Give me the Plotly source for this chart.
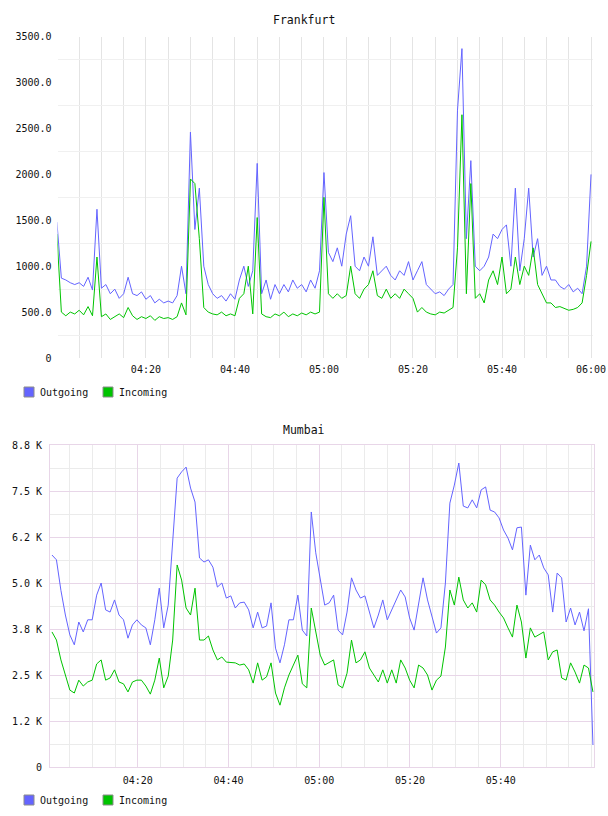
import plotly.graph_objects as go
import pandas as pd

# ---------------- data ----------------
fra_out = [1480, 870, 850, 820, 800, 820, 780, 880, 740, 1620,
           760, 800, 700, 750, 650, 700, 880, 700, 680, 720,
           640, 680, 600, 640, 600, 620, 600, 680, 1000, 700,
           2460, 1400, 1850, 1000, 800, 700, 650, 680, 620, 700,
           640, 850, 1000, 780, 950, 2120, 700, 850, 640, 800,
           700, 800, 720, 850, 760, 800, 720, 850, 760, 950,
           2020, 1150, 1050, 1200, 1000, 1350, 1550, 1000, 950, 1100,
           1000, 1320, 900, 950, 1000, 900, 850, 950, 900, 1050,
           850, 950, 1050, 800, 750, 700, 720, 680, 750, 800,
           2700, 3370, 1300, 2150, 1000, 950, 1000, 1100, 1350, 1300,
           1400, 1450, 1000, 1850, 950, 1300, 1850, 1100, 1300, 900,
           1000, 850, 850, 780, 750, 800, 720, 760, 700, 1000,
           2000]
fra_in = [1350, 500, 460, 500, 480, 520, 470, 560, 460, 1100,
          450, 480, 420, 450, 480, 440, 550, 460, 420, 450,
          430, 460, 410, 450, 430, 440, 420, 450, 600, 470,
          1950, 1900, 1300, 550, 500, 480, 470, 500, 460, 480,
          460, 650, 700, 1000, 480, 1530, 480, 450, 440, 480,
          460, 500, 450, 480, 460, 490, 470, 500, 480, 500,
          1750, 700, 650, 700, 650, 680, 1000, 700, 650, 750,
          800, 950, 680, 650, 750, 650, 700, 650, 750, 700,
          650, 500, 550, 500, 480, 470, 500, 490, 520, 550,
          1200, 2650, 700, 1900, 650, 700, 600, 850, 950, 800,
          1100, 700, 750, 1100, 800, 1000, 900, 1200, 800, 700,
          600, 600, 550, 560, 540, 520, 530, 550, 600, 900,
          1270]

mum_out = [5760, 5630, 4800, 4130, 3590, 3320, 3940, 3670, 4000, 4000,
           4670, 5000, 4270, 4210, 4540, 4130, 4000, 3500, 3860, 4000,
           3860, 3780, 3320, 4000, 4860, 3780, 4400, 6170, 7850, 8020,
           8150, 7580, 7200, 5680, 5570, 5630, 5430, 4890, 5000, 4590,
           4650, 4320, 4460, 4480, 4270, 3780, 4210, 3780, 3830, 4460,
           3230, 2830, 3320, 4000, 4000, 4670, 3720, 3560, 6930, 5820,
           5080, 4400, 4460, 4670, 3720, 3590, 4210, 5140, 4810, 4590,
           4650, 4180, 3780, 4130, 4540, 4000, 4270, 4540, 4810, 4620,
           4050, 3720, 4480, 5140, 4540, 4080, 3640, 3780, 5000, 7170,
           7660, 8260, 7090, 7040, 7260, 7040, 7530, 7610, 6980, 6930,
           6770, 6440, 6220, 5900, 6500, 6520, 4670, 6030, 5630, 5760,
           5410, 5220, 4210, 5270, 5140, 3940, 4320, 3860, 4210, 3700,
           4300, 600]
mum_in = [3670, 3450, 2910, 2500, 2090, 2010, 2360, 2200, 2310, 2360,
          2800, 2910, 2360, 2420, 2640, 2310, 2260, 2040, 2310, 2360,
          2360, 2200, 1980, 2360, 2960, 2150, 2470, 3450, 5490, 5080,
          4320, 4130, 4860, 3450, 3450, 3560, 3180, 2910, 2990, 2850,
          2830, 2830, 2770, 2800, 2640, 2280, 2830, 2360, 2450, 2830,
          2010, 1680, 2150, 2500, 2770, 3040, 2260, 2150, 4320, 3640,
          3040, 2770, 2830, 2910, 2230, 2150, 2550, 3450, 2830, 2910,
          3130, 2690, 2500, 2310, 2640, 2280, 2640, 2280, 2910, 2690,
          2360, 2150, 2770, 2690, 2500, 2090, 2360, 2470, 3260, 4810,
          4400, 5160, 4540, 4320, 4460, 4210, 5080, 4950, 4540, 4400,
          4210, 4050, 3780, 3530, 4400, 3940, 2960, 3780, 3530, 3590,
          3670, 2910, 3130, 3180, 2420, 2360, 2830, 2580, 2280, 2770,
          2690, 2040]

fra_ytick_vals = [0, 500, 1000, 1500, 2000, 2500, 3000, 3500]
fra_ytick_text = ["0", "500.0", "1000.0", "1500.0", "2000.0", "2500.0", "3000.0", "3500.0"]
mum_ytick_vals = [0, 1250, 2500, 3750, 5000, 6250, 7500, 8750]
mum_ytick_text = ["0", "1.2 K", "2.5 K", "3.8 K", "5.0 K", "6.2 K", "7.5 K", "8.8 K"]
fra_xtick_text = ["04:20", "04:40", "05:00", "05:20", "05:40", "06:00"]
mum_xtick_text = ["04:20", "04:40", "05:00", "05:20", "05:40"]
series_names = ["Outgoing", "Incoming"]

day = "2024-01-01 "
fra_time = pd.date_range(day + "04:00", periods=len(fra_out), freq="1min")
mum_time = pd.date_range(day + "04:01:06", day + "06:00:20", periods=len(mum_out))
fra_xtick_vals = [day + t for t in fra_xtick_text]
mum_xtick_vals = [day + t for t in mum_xtick_text]

# ---------------- styling ----------------
W, H = 608, 816
BLUE = "#6464ff"
GREEN = "#00c400"
FONT = "DejaVu Sans Mono"
PINK = "#e8d6e8"
GRAY = "#ebebeb"
TXT = "#111"


def px_x(p):
    return p / W


def px_y(p):
    return 1 - p / H


fig = go.Figure()
colors = [BLUE, GREEN]
for vals, col, nm in [(fra_out, BLUE, series_names[0]), (fra_in, GREEN, series_names[1])]:
    fig.add_trace(go.Scatter(x=fra_time, y=vals, mode="lines", line=dict(color=col, width=1),
                             xaxis="x", yaxis="y", showlegend=False, name=nm))
for vals, col, nm in [(mum_out, BLUE, series_names[0]), (mum_in, GREEN, series_names[1])]:
    fig.add_trace(go.Scatter(x=mum_time, y=vals, mode="lines", line=dict(color=col, width=1),
                             xaxis="x2", yaxis="y2", showlegend=False, name=nm))

tickfont = dict(family=FONT, size=10, color=TXT)
FIVE = 5 * 60 * 1000

# manual legends (swatch + text) under each chart
shapes = []
annotations = []
for cy in [392, 800]:
    for (sx, tx), nm, col in zip([(24, 38), (103, 117)], series_names, colors):
        shapes.append(dict(type="rect", xref="paper", yref="paper",
                           x0=px_x(sx), x1=px_x(sx + 10), y0=px_y(cy + 5), y1=px_y(cy - 5),
                           fillcolor=col, line=dict(color="#8c8c8c", width=1)))
        annotations.append(dict(text=nm, x=px_x(tx), y=px_y(cy), xref="paper", yref="paper",
                                showarrow=False, xanchor="left", yanchor="middle",
                                font=dict(family=FONT, size=10, color=TXT)))

annotations += [
    dict(text="Frankfurt", x=px_x(304), y=px_y(20), xref="paper", yref="paper",
         showarrow=False, font=dict(family=FONT, size=11.5, color=TXT),
         xanchor="center", yanchor="middle"),
    dict(text="Mumbai", x=px_x(304), y=px_y(430), xref="paper", yref="paper",
         showarrow=False, font=dict(family=FONT, size=11.5, color=TXT),
         xanchor="center", yanchor="middle"),
]

fig.update_layout(
    width=W, height=H, autosize=False,
    margin=dict(l=0, r=0, t=0, b=0, autoexpand=False),
    paper_bgcolor="white", plot_bgcolor="white",
    font=dict(family=FONT, size=10, color=TXT),
    showlegend=False,
    xaxis=dict(
        domain=[px_x(57.5), px_x(592.5)], anchor="y", type="date", automargin=False,
        range=[day + "04:00:08", day + "06:00:20"],
        tickvals=fra_xtick_vals, ticktext=fra_xtick_text,
        showgrid=True, gridcolor="#e4e4e4", gridwidth=1,
        minor=dict(tick0=day + "04:00", dtick=FIVE, showgrid=True, gridcolor="#e4e4e4", gridwidth=1),
        zeroline=False, showline=False, ticks="", tickfont=tickfont, ticklabelstandoff=4,
    ),
    yaxis=dict(
        domain=[px_y(358), px_y(36.7)], anchor="x", automargin=False,
        range=[0, 3500], tickvals=fra_ytick_vals, ticktext=fra_ytick_text,
        showgrid=False,
        minor=dict(tick0=250, dtick=500, showgrid=True, gridcolor="#f0f0f0", gridwidth=1),
        zeroline=False, showline=False, ticks="", tickfont=tickfont, ticklabelstandoff=5,
    ),
    xaxis2=dict(
        domain=[px_x(50), px_x(594)], anchor="y2", type="date", automargin=False,
        range=[day + "04:00:40", day + "06:00:34"],
        tickvals=mum_xtick_vals, ticktext=mum_xtick_text,
        showgrid=True, gridcolor=PINK, gridwidth=1,
        minor=dict(tick0=day + "04:00", dtick=FIVE, showgrid=True, gridcolor=GRAY, gridwidth=1),
        zeroline=False, showline=True, linecolor=PINK, linewidth=1, mirror=True,
        ticks="", tickfont=tickfont, ticklabelstandoff=4,
    ),
    yaxis2=dict(
        domain=[px_y(767), px_y(445)], anchor="x2", automargin=False,
        range=[0, 8750], tickvals=mum_ytick_vals, ticktext=mum_ytick_text,
        showgrid=True, gridcolor=PINK, gridwidth=1,
        minor=dict(tick0=0, dtick=625, showgrid=True, gridcolor=GRAY, gridwidth=1),
        zeroline=False, showline=True, linecolor=PINK, linewidth=1, mirror=True,
        ticks="", tickfont=tickfont, ticklabelstandoff=5,
    ),
    shapes=shapes,
    annotations=annotations,
)

fig.write_html("out.html")
